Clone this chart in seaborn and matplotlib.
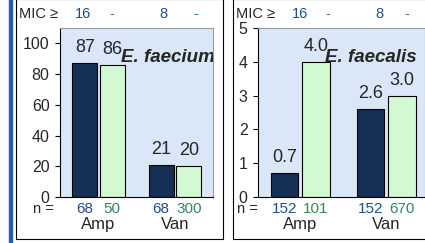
import numpy as np
import pandas as pd
import matplotlib
matplotlib.use("Agg")
import matplotlib.pyplot as plt
import matplotlib.transforms as mtransforms
from matplotlib.patches import Rectangle
import seaborn as sns

# data
drugs = ["Amp", "Van"]
groups = ["A", "B"]
faecium_pct = [87, 86, 21, 20]
faecalis_pct = [0.7, 4.0, 2.6, 3.0]
faecium_n = ["68", "50", "68", "300"]
faecalis_n = ["152", "101", "152", "670"]
mic_labels = ["16", "-", "8", "-"]

dark = "#0b2f5e"
light = "#ccffcc"
blue_txt = "#1f4e8c"
green_txt = "#2e8b57"
bg = "#d9e7f8"

sns.set_style("white")
plt.rcParams["font.family"] = ["Liberation Sans", "DejaVu Sans"]

W, H = 425, 243
fig = plt.figure(figsize=(W / 100, H / 100), dpi=100)


def px(x0, y0, x1, y1):
    return [x0 / W, 1 - y1 / H, (x1 - x0) / W, (y1 - y0) / H]


# panel frames and the blue line on the left
fig.patches.append(Rectangle((9 / W, 0), 3 / W, 1, transform=fig.transFigure,
                             color="#2a5caa", zorder=0))
fig.patches.append(Rectangle((16 / W, 1 - 239 / H), 207 / W, 240 / H, transform=fig.transFigure,
                             fill=False, ec="black", lw=0.8, zorder=0))
fig.patches.append(Rectangle((233 / W, 1 - 239 / H), 200 / W, 240 / H, transform=fig.transFigure,
                             fill=False, ec="black", lw=0.8, zorder=0))


def panel(rect, vals, nlab, ymax, yticks, fmt, title, width, gap, xlim, mic_x, mic_left, n_left):
    ax = fig.add_axes(rect)
    df = pd.DataFrame({"drug": np.repeat(drugs, 2), "grp": groups * 2, "val": vals})
    sns.barplot(data=df, x="drug", y="val", hue="grp", palette=[dark, light],
                width=width, gap=gap, edgecolor="black", linewidth=0.8,
                legend=False, ax=ax)
    ax.set_facecolor(bg)
    ax.set_ylim(0, ymax)
    ax.set_xlim(*xlim)
    ax.set_yticks(yticks)
    ax.set_xlabel("")
    ax.set_ylabel("")
    for c in ax.containers:
        ax.bar_label(c, fmt=fmt, padding=5, fontsize=13)
    ax.tick_params(axis="y", length=3.5, width=0.8, color="black", pad=4, labelsize=11.5, left=True)
    ax.tick_params(axis="x", length=0, pad=14.5, labelsize=12)
    for s in ["left", "bottom"]:
        ax.spines[s].set_color("black")
        ax.spines[s].set_linewidth(0.8)
    for s in ["top", "right"]:
        ax.spines[s].set_color("#9a9a9a")
        ax.spines[s].set_linewidth(0.8)
    ax.text(0.40, 0.80, title, transform=ax.transAxes, fontsize=13.5, fontweight="bold",
            fontstyle="italic", va="baseline", clip_on=True)

    # n = row under the bars
    off = width / 4
    xs = [0 - off, 0 + off, 1 - off, 1 + off]
    tr = mtransforms.blended_transform_factory(ax.transData, fig.transFigure)
    for i, (x, t) in enumerate(zip(xs, nlab)):
        ax.text(x, 1 - 213 / H, t, transform=tr, ha="center", va="baseline",
                fontsize=11, color=blue_txt if i % 2 == 0 else green_txt)
    fig.text(n_left / W, 1 - 213 / H, "n =", fontsize=10.5, va="baseline")

    # MIC row on top
    fig.text(mic_left / W, 1 - 18 / H, "MIC \u2265", fontsize=10.5, va="baseline")
    for i, (x, t) in enumerate(zip(mic_x, mic_labels)):
        fig.text(x / W, 1 - 18 / H, t, fontsize=10.5, ha="center", va="baseline",
                 color=blue_txt if i % 2 == 0 else green_txt)
    return ax


panel(px(60, 28, 213, 197), faecium_pct, faecium_n, 110, [0, 20, 40, 60, 80, 100],
      "%.0f", "E. faecium", 0.72, 0.09, (-0.503, 1.497), [83, 112, 163, 196], 19, 33)
panel(px(258, 28, 425, 197), faecalis_pct, faecalis_n, 5, [0, 1, 2, 3, 4, 5],
      "%.1f", "E. faecalis", 0.73, 0.127, (-0.49, 1.45), [300, 328, 379, 407], 236, 237)

fig.savefig("out.png", dpi=100)
